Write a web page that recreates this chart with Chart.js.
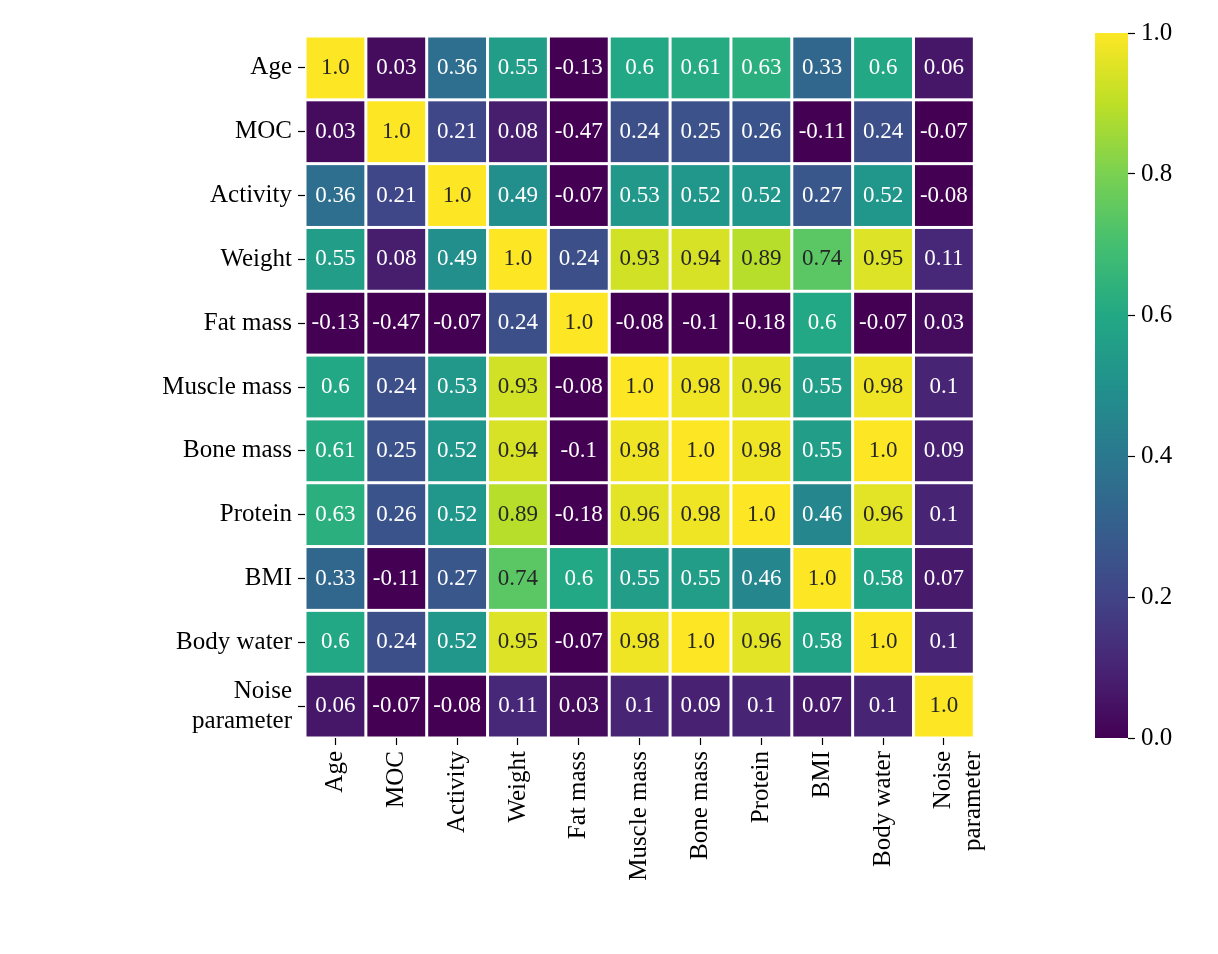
<!DOCTYPE html>
<html>
<head>
<meta charset="utf-8">
<script src="https://cdn.jsdelivr.net/npm/chart.js@4"></script>
<style>
  body { margin: 0; background: #fff; width: 1218px; height: 954px; position: relative; overflow: hidden; }
  #heat { position: absolute; left: 0; top: 0; }
  #bar { position: absolute; left: 1095px; top: 0; }
</style>
</head>
<body>
<canvas id="heat" width="1010" height="954"></canvas>
<canvas id="bar" width="123" height="954"></canvas>
<script>
const labels = ["Age", "MOC", "Activity", "Weight", "Fat mass", "Muscle mass", "Bone mass", "Protein", "BMI", "Body water", ["Noise", "parameter"]];
const matrix = [
  [1.0, 0.03, 0.36, 0.55, -0.13, 0.6, 0.61, 0.63, 0.33, 0.6, 0.06],
  [0.03, 1.0, 0.21, 0.08, -0.47, 0.24, 0.25, 0.26, -0.11, 0.24, -0.07],
  [0.36, 0.21, 1.0, 0.49, -0.07, 0.53, 0.52, 0.52, 0.27, 0.52, -0.08],
  [0.55, 0.08, 0.49, 1.0, 0.24, 0.93, 0.94, 0.89, 0.74, 0.95, 0.11],
  [-0.13, -0.47, -0.07, 0.24, 1.0, -0.08, -0.1, -0.18, 0.6, -0.07, 0.03],
  [0.6, 0.24, 0.53, 0.93, -0.08, 1.0, 0.98, 0.96, 0.55, 0.98, 0.1],
  [0.61, 0.25, 0.52, 0.94, -0.1, 0.98, 1.0, 0.98, 0.55, 1.0, 0.09],
  [0.63, 0.26, 0.52, 0.89, -0.18, 0.96, 0.98, 1.0, 0.46, 0.96, 0.1],
  [0.33, -0.11, 0.27, 0.74, 0.6, 0.55, 0.55, 0.46, 1.0, 0.58, 0.07],
  [0.6, 0.24, 0.52, 0.95, -0.07, 0.98, 1.0, 0.96, 0.58, 1.0, 0.1],
  [0.06, -0.07, -0.08, 0.11, 0.03, 0.1, 0.09, 0.1, 0.07, 0.1, 1.0]
];
const cbTicks = [0, 0.2, 0.4, 0.6, 0.8, 1.0];

// viridis colormap samples
const viridis = ["#440154", "#482475", "#414487", "#355f8d", "#2a788e", "#21918c", "#22a884", "#44bf70", "#7ad151", "#bddf26", "#fde725"];
function hex(h) { return [1, 3, 5].map(i => parseInt(h.substr(i, 2), 16)); }
function colorFor(v) {
  v = Math.max(0, Math.min(1, v));
  const p = v * 10, i = Math.min(9, Math.floor(p)), t = p - i;
  const a = hex(viridis[i]), b = hex(viridis[i + 1]);
  const c = a.map((x, k) => Math.round(x + (b[k] - x) * t));
  return `rgb(${c[0]},${c[1]},${c[2]})`;
}
function fmt(v) { return Number.isInteger(v) ? v.toFixed(1) : String(v); }

const points = [];
matrix.forEach((row, r) => row.forEach((v, c) => points.push({ x: c, y: r, v })));

const font = { family: "Liberation Serif", size: 25 };

const cellPlugin = {
  id: "cells",
  afterDatasetsDraw(chart) {
    const { ctx, scales: { x, y } } = chart;
    ctx.save();
    chart.data.datasets[0].data.forEach(p => {
      const x0 = x.getPixelForValue(p.x - 0.5), x1 = x.getPixelForValue(p.x + 0.5);
      const y0 = y.getPixelForValue(p.y - 0.5), y1 = y.getPixelForValue(p.y + 0.5);
      ctx.fillStyle = colorFor(p.v);
      ctx.fillRect(x0 + 1.5, y0 + 1.5, x1 - x0 - 3, y1 - y0 - 3);
      ctx.fillStyle = p.v > 0.7 ? "#262626" : "#ffffff";
      ctx.font = "23px 'Liberation Serif'";
      ctx.textAlign = "center";
      ctx.textBaseline = "middle";
      ctx.fillText(fmt(p.v), (x0 + x1) / 2, (y0 + y1) / 2);
    });
    ctx.restore();
  }
};

new Chart(document.getElementById("heat"), {
  type: "scatter",
  data: { datasets: [{ data: points, pointRadius: 0 }] },
  options: {
    responsive: false,
    animation: false,
    events: [],
    layout: { padding: { top: 32, right: 2, left: 0, bottom: 0 } },
    plugins: { legend: { display: false }, tooltip: { enabled: false } },
    scales: {
      x: {
        min: -0.5, max: 10.5,
        afterBuildTicks: s => { s.ticks = labels.map((_, i) => ({ value: i })); },
        afterFit: s => { s.height = 216; },
        ticks: { callback: v => labels[v], font, color: "#000", minRotation: 90, maxRotation: 90, autoSkip: false, padding: 6 },
        grid: { drawOnChartArea: false, tickLength: 7, color: "#000", tickWidth: 1.2 },
        border: { display: false }
      },
      y: {
        min: -0.5, max: 10.5, reverse: true,
        afterBuildTicks: s => { s.ticks = labels.map((_, i) => ({ value: i })); },
        afterFit: s => { s.width = 305; },
        ticks: { callback: v => labels[v], font, color: "#000", autoSkip: false, padding: 6 },
        grid: { drawOnChartArea: false, tickLength: 7, color: "#000", tickWidth: 1.2 },
        border: { display: false }
      }
    }
  },
  plugins: [cellPlugin]
});

const gradPlugin = {
  id: "grad",
  beforeDatasetsDraw(chart) {
    const { ctx, chartArea: a } = chart;
    const g = ctx.createLinearGradient(0, a.bottom, 0, a.top);
    viridis.forEach((c, i) => g.addColorStop(i / 10, c));
    ctx.fillStyle = g;
    ctx.fillRect(a.left, a.top, a.right - a.left, a.bottom - a.top);
  }
};

new Chart(document.getElementById("bar"), {
  type: "scatter",
  data: { datasets: [{ data: [], pointRadius: 0 }] },
  options: {
    responsive: false,
    animation: false,
    events: [],
    layout: { padding: { top: 33, bottom: 216, left: 0, right: 0 } },
    plugins: { legend: { display: false }, tooltip: { enabled: false } },
    scales: {
      x: { display: false, min: 0, max: 1 },
      y: {
        position: "right", min: 0, max: 1,
        afterBuildTicks: s => { s.ticks = cbTicks.map(v => ({ value: v })); },
        afterFit: s => { s.width = 90; },
        ticks: { callback: v => v.toFixed(1), font, color: "#000", padding: 6 },
        grid: { drawOnChartArea: false, tickLength: 7, color: "#000", tickWidth: 1.2 },
        border: { display: false }
      }
    }
  },
  plugins: [gradPlugin]
});
</script>
</body>
</html>
